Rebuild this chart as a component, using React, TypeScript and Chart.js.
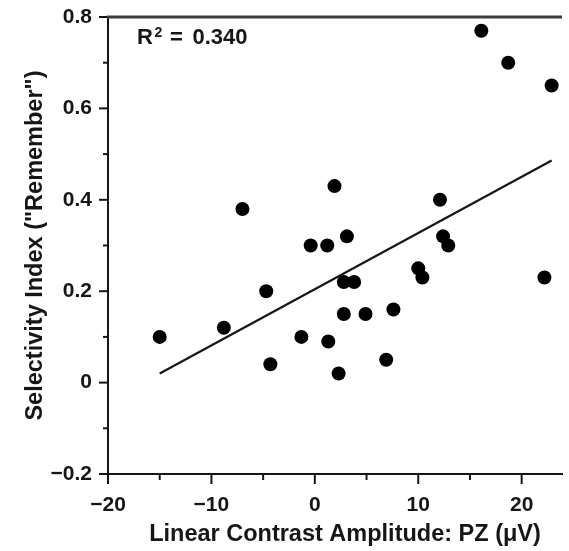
import { useEffect, useRef } from "react";
import { Chart, registerables } from "chart.js";

Chart.register(...registerables);

// Per-participant PZ contrast amplitude (µV) and "Remember" selectivity index
const amplitudePZ = [
  -15.0, -8.8, -7.0, -4.7, -4.3, -1.3, -0.4, 1.2, 1.3, 1.9, 2.3, 2.8, 2.8, 3.1,
  3.8, 4.9, 6.9, 7.6, 10.0, 10.4, 12.1, 12.4, 12.9, 16.1, 18.7, 22.2, 22.9,
];
const selectivity = [
  0.1, 0.12, 0.38, 0.2, 0.04, 0.1, 0.3, 0.3, 0.09, 0.43, 0.02, 0.22, 0.15, 0.32,
  0.22, 0.15, 0.05, 0.16, 0.25, 0.23, 0.4, 0.32, 0.3, 0.77, 0.7, 0.23, 0.65,
];

// Least-squares fit line endpoints
const fitX = [-15.0, 22.9];
const fitY = [0.02, 0.486];
const rSquared = "0.340";

const xTicks = [-20, -10, 0, 10, 20];
const xMinorTicks = [-15, -5, 5, 15];
const yTicks = [-0.2, 0, 0.2, 0.4, 0.6, 0.8];
const yMinorTicks = [-0.1, 0.1, 0.3, 0.5, 0.7];

const xTitle = "Linear Contrast Amplitude: PZ (\u03BCV)";
const yTitle = "Selectivity Index (\"Remember\")";

const INK = "#161616";
const FONT = "'Liberation Sans', Arial, Helvetica, sans-serif";

const fmt = (v: number, digits: number) => {
  if (Math.abs(v) < 1e-9) return "0";
  const s = Math.abs(v).toFixed(digits);
  return v < 0 ? "\u2212" + s : s;
};

const framePlugin = {
  id: "frame",
  afterDraw(chart: any) {
    const { ctx, chartArea, scales } = chart;
    const xs = scales.x;
    const ys = scales.y;
    const line = (x1: number, y1: number, x2: number, y2: number) => {
      ctx.beginPath();
      ctx.moveTo(x1, y1);
      ctx.lineTo(x2, y2);
      ctx.stroke();
    };
    ctx.save();
    ctx.strokeStyle = INK;
    ctx.lineWidth = 2;
    ctx.lineCap = "butt";
    const left = chartArea.left;
    const bottom = chartArea.bottom;
    yTicks.forEach((v) => {
      const p = ys.getPixelForValue(v);
      line(left - 9, p, left, p);
    });
    yMinorTicks.forEach((v) => {
      const p = ys.getPixelForValue(v);
      line(left - 5, p, left, p);
    });
    xTicks.forEach((v) => {
      const p = xs.getPixelForValue(v);
      line(p, bottom, p, bottom + 10);
    });
    xMinorTicks.forEach((v) => {
      const p = xs.getPixelForValue(v);
      line(p, bottom, p, bottom + 6);
    });

    // top frame line
    ctx.strokeStyle = "#3c3c3c";
    ctx.lineWidth = 3;
    line(left - 1, chartArea.top, chartArea.right, chartArea.top);

    ctx.fillStyle = INK;
    ctx.textAlign = "left";
    ctx.textBaseline = "alphabetic";

    // R² annotation
    const base = 44;
    ctx.font = `bold 22px ${FONT}`;
    ctx.fillText("R", 137, base);
    ctx.font = `bold 14px ${FONT}`;
    ctx.fillText("2", 154.5, base - 7);
    ctx.font = `bold 22px ${FONT}`;
    ctx.fillText("=", 170, base);
    ctx.fillText(rSquared, 192.5, base);

    // x-axis title, centred under the full axis span
    ctx.font = `bold 23.5px ${FONT}`;
    ctx.textAlign = "center";
    ctx.textBaseline = "middle";
    ctx.fillText(xTitle, 345, 535);
    ctx.restore();
  },
};

export default function App() {
  const canvasRef = useRef<HTMLCanvasElement | null>(null);

  useEffect(() => {
    document.body.style.margin = "0";
    const canvas = canvasRef.current;
    if (!canvas) return;

    const points = amplitudePZ.map((x, i) => ({ x, y: selectivity[i] }));
    const fit = fitX.map((x, i) => ({ x, y: fitY[i] }));

    const chart = new Chart(canvas, {
      type: "scatter",
      data: {
        datasets: [
          {
            label: "Participants",
            data: points,
            backgroundColor: "#000",
            borderColor: "#000",
            pointRadius: 7,
            pointBorderWidth: 0,
          },
          {
            label: "Fit",
            data: fit,
            showLine: true,
            borderColor: INK,
            borderWidth: 2.2,
            pointRadius: 0,
          },
        ],
      },
      options: {
        animation: false,
        responsive: false,
        events: [],
        clip: false as any,
        layout: { padding: { top: 17, left: 0, right: 0, bottom: 0 } },
        plugins: {
          legend: { display: false },
          tooltip: { enabled: false },
        },
        scales: {
          x: {
            type: "linear",
            min: -20,
            max: 23.9,
            grid: { display: false, tickLength: 19 },
            border: { display: true, color: INK, width: 2 },
            afterBuildTicks: (s: any) => {
              s.ticks = xTicks.map((value) => ({ value }));
            },
            afterFit: (s: any) => {
              s.height = 77;
            },
            ticks: {
              padding: 0,
              color: INK,
              font: { family: FONT, size: 21, weight: "bold" },
              callback: (v: any) => fmt(Number(v), 0),
            },
          },
          y: {
            type: "linear",
            min: -0.2,
            max: 0.8,
            grid: { display: false, tickLength: 16 },
            border: { display: true, color: INK, width: 2 },
            afterBuildTicks: (s: any) => {
              s.ticks = yTicks.map((value) => ({ value }));
            },
            afterFit: (s: any) => {
              s.width = 108;
            },
            ticks: {
              padding: 0,
              color: INK,
              font: { family: FONT, size: 21, weight: "bold" },
              callback: (v: any) => fmt(Number(v), 1),
            },
            title: {
              display: true,
              text: yTitle,
              color: INK,
              font: { family: FONT, size: 23.5, weight: "bold" },
              padding: { top: 21, bottom: 0 },
            },
          },
        },
      },
      plugins: [framePlugin],
    });

    return () => chart.destroy();
  }, []);

  return (
    <div style={{ width: 569, height: 551, background: "#fff" }}>
      <canvas ref={canvasRef} width={569} height={551} style={{ display: "block" }} />
    </div>
  );
}
